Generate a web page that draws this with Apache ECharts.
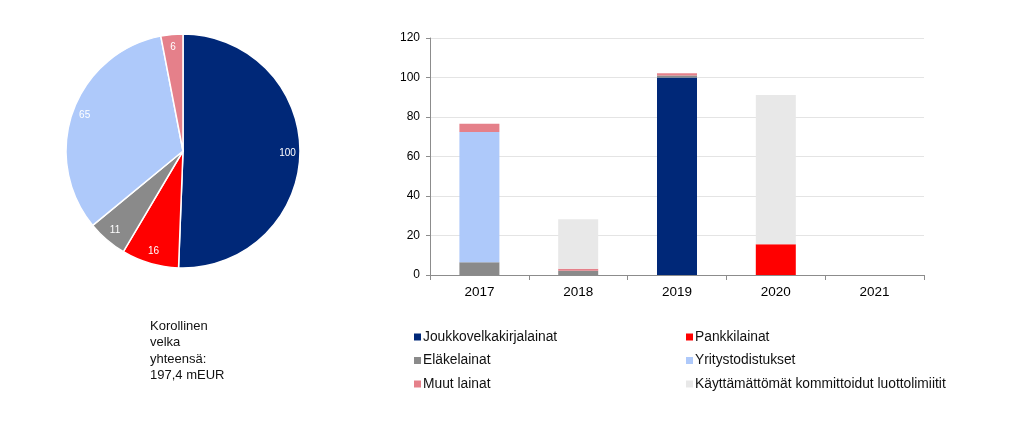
<!DOCTYPE html>
<html><head><meta charset="utf-8">
<script src="https://cdn.jsdelivr.net/npm/echarts@6/dist/echarts.min.js"></script>
<style>html,body{margin:0;padding:0;background:#fff}#c{width:1024px;height:422px}</style>
</head><body><div id="c"></div>
<script>
const years = ['2017','2018','2019','2020','2021'];
const seriesNames = ['Joukkovelkakirjalainat','Pankkilainat','Eläkelainat','Yritystodistukset','Muut lainat','Käyttämättömät kommittoidut luottolimiitit'];
const colors = ['#002878','#FF0000','#8A8A8A','#AEC9FA','#E5808A','#E8E8E8'];
const joukko = [0, 0, 100, 0, 0];
const pankki = [0, 0, 0, 15.6, 0];
const elake = [6.5, 2.2, 1.0, 0, 0];
const yritys = [65.9, 0, 0, 0, 0];
const muut = [4.2, 1.0, 1.2, 0, 0];
const kayttamattomat = [0, 25.0, 0, 75.6, 0];
const barValues = [joukko, pankki, elake, yritys, muut, kayttamattomat];
const pieNames = ['Joukkovelkakirjalainat','Pankkilainat','Eläkelainat','Yritystodistukset','Muut lainat'];
const pieValues = [99.9, 15.6, 10.9, 65.0, 6.0];
const pieColors = ['#002878','#FF0000','#8A8A8A','#AEC9FA','#E5808A'];
const yTicks = [0, 20, 40, 60, 80, 100, 120];
const totalText = 'Korollinen\nvelka\nyhteensä:\n197,4 mEUR';

const chart = echarts.init(document.getElementById('c'), null, {renderer:'canvas'});
const font = 'Liberation Sans, Arial, sans-serif';
const pieData = pieNames.map((n,i)=>({name:n, value:pieValues[i], itemStyle:{color:pieColors[i]}}));
const legendText = {fontSize:13.8, color:'#111', fontFamily:font, padding:[0,0,0,-3]};
const option = {
  animation:false,
  textStyle:{fontFamily:font},
  grid:{left:430, right:100, top:38, bottom:147},
  xAxis:{type:'category', data:years,
    axisLine:{lineStyle:{color:'#8c8c8c'}},
    axisTick:{show:true, length:5, lineStyle:{color:'#8c8c8c'}},
    axisLabel:{color:'#000', fontSize:13.5, fontFamily:font, margin:10}},
  yAxis:{type:'value', min:yTicks[0], max:yTicks[yTicks.length-1], interval:20,
    axisLine:{show:true, lineStyle:{color:'#8c8c8c'}},
    axisTick:{show:true, length:4, lineStyle:{color:'#8c8c8c'}},
    splitLine:{lineStyle:{color:'#e4e4e4'}},
    axisLabel:{color:'#000', fontSize:12, fontFamily:font, margin:10}},
  legend:[
    {orient:'vertical', left:409, top:325, itemWidth:7, itemHeight:7, itemGap:9.5, icon:'rect',
     textStyle:legendText, data:[seriesNames[0], seriesNames[2], seriesNames[4]]},
    {orient:'vertical', left:681, top:325, itemWidth:7, itemHeight:7, itemGap:9.5, icon:'rect',
     textStyle:legendText, data:[seriesNames[1], seriesNames[3], seriesNames[5]]}
  ],
  graphic:[{type:'text', left:150, top:318, style:{text:totalText, font:'13px '+font, fill:'#111', lineHeight:16.5}}],
  series:[
    ...seriesNames.map((n,i)=>({name:n, type:'bar', stack:'a', barWidth:40,
      itemStyle:{color:colors[i]}, data:barValues[i]})),
    {type:'pie', center:[183,151], radius:[0,117], startAngle:90, clockwise:true,
     legendHoverLink:false, silent:true,
     itemStyle:{borderColor:'#fff', borderWidth:1.5},
     label:{show:false}, labelLine:{show:false}, data:pieData},
    {type:'pie', center:[183,151], radius:[86,117], startAngle:90, clockwise:true,
     silent:true, legendHoverLink:false,
     itemStyle:{color:'rgba(0,0,0,0)', borderWidth:0},
     label:{show:true, position:'inside', color:'#fff', fontSize:10, fontFamily:font,
       formatter:p=>Math.round(p.value)},
     labelLine:{show:false},
     data:pieNames.map((n,i)=>({name:n, value:pieValues[i], itemStyle:{color:'rgba(0,0,0,0)'}}))}
  ]
};
chart.setOption(option);
</script></body></html>
